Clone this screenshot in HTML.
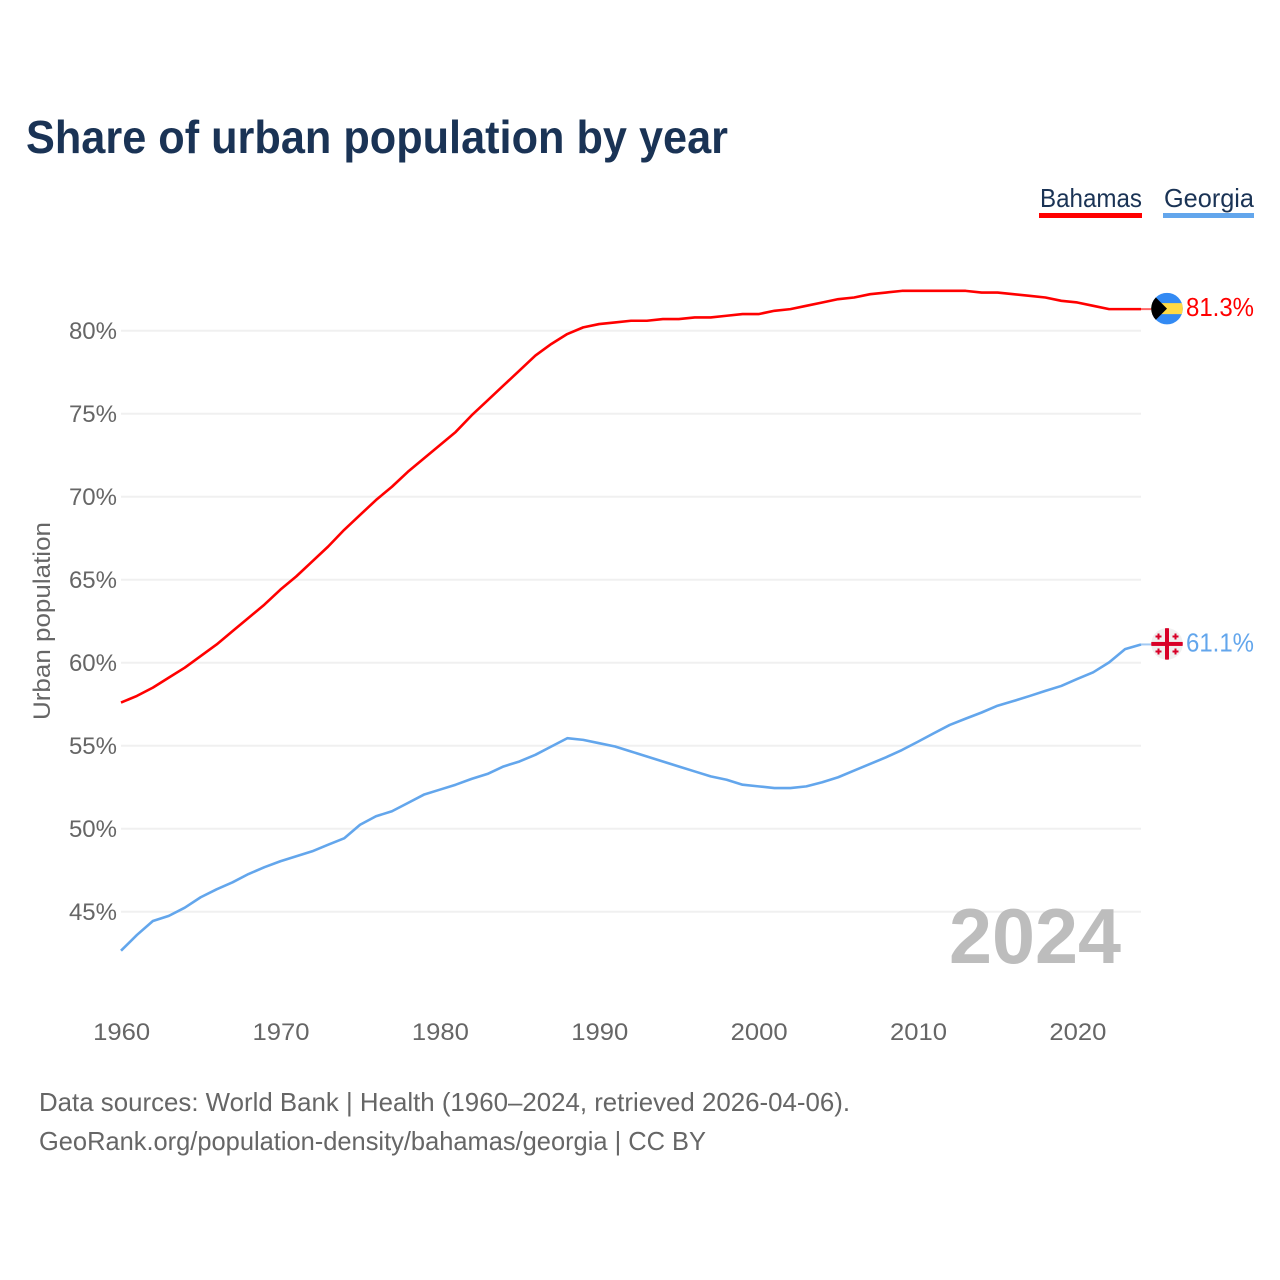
<!DOCTYPE html>
<html lang="en">
<head>
<meta charset="utf-8">
<title>Share of urban population by year</title>
<style>
html,body{margin:0;padding:0;background:#fff;}
svg{display:block;font-family:"Liberation Sans",sans-serif;}
</style>
</head>
<body>
<svg id="chart" width="1280" height="1280" viewBox="0 0 1280 1280" xmlns="http://www.w3.org/2000/svg">
  <defs>
    <clipPath id="flag-clip"><circle cx="0" cy="0" r="15.8"/></clipPath>
  </defs>
  <rect x="0" y="0" width="1280" height="1280" fill="#ffffff"/>
  <text x="26" y="153" font-size="46" font-weight="700" fill="#1a3355" textLength="702" lengthAdjust="spacingAndGlyphs">Share of urban population by year</text>

  <g>
    <g>
      <text x="1040" y="207" font-size="26" fill="#1a3355" textLength="102" lengthAdjust="spacingAndGlyphs">Bahamas</text>
      <rect x="1039" y="213" width="103" height="5" fill="#ff0000"/>
    </g>
    <g>
      <text x="1164" y="207" font-size="26" fill="#1a3355" textLength="90" lengthAdjust="spacingAndGlyphs">Georgia</text>
      <rect x="1163" y="213" width="91" height="5" fill="#63a6ec"/>
    </g>
  </g>

  <text transform="translate(50,621) rotate(-90)" text-anchor="middle" font-size="24" fill="#666666" textLength="198" lengthAdjust="spacingAndGlyphs">Urban population</text>

  <g id="grid"></g>
  <g id="y-ticks"></g>
  <g id="x-ticks"></g>

  <text x="1121" y="963" text-anchor="end" font-size="78" font-weight="700" fill="#bdbdbd" textLength="172" lengthAdjust="spacingAndGlyphs">2024</text>

  <path id="line-bahamas" fill="none" stroke="#ff0000" stroke-width="2.6" stroke-linejoin="round"/>
  <path id="line-georgia" fill="none" stroke="#63a6ec" stroke-width="2.6" stroke-linejoin="round"/>
  <line id="lead-bahamas" stroke="#ff0000" stroke-width="2" opacity="0.6"/>
  <line id="lead-georgia" stroke="#63a6ec" stroke-width="2" opacity="0.6"/>

  <g id="flag-bahamas">
    <g clip-path="url(#flag-clip)">
      <rect x="-16" y="-16" width="32" height="32" fill="#338af3"/>
      <rect x="-16" y="-5.5" width="32" height="11" fill="#ffda44"/>
      <path d="M-16,-16 L0,0 L-16,16 Z" fill="#000000"/>
    </g>
  </g>
  <g id="flag-georgia">
    <g clip-path="url(#flag-clip)">
      <rect x="-16" y="-16" width="32" height="32" fill="#f0f0f0"/>
      <rect x="-16" y="-2" width="32" height="4" fill="#d80027"/>
      <rect x="-2" y="-16" width="4" height="32" fill="#d80027"/>
      <path d="M-9.5,-10.5h2v2h2v2h-2v2h-2v-2h-2v-2h2zM7.5,-10.5h2v2h2v2h-2v2h-2v-2h-2v-2h2zM-9.5,4.5h2v2h2v2h-2v2h-2v-2h-2v-2h2zM7.5,4.5h2v2h2v2h-2v2h-2v-2h-2v-2h2z" fill="#d80027"/>
    </g>
  </g>
  <text id="value-bahamas" x="1186" font-size="26" fill="#ff0000" textLength="68" lengthAdjust="spacingAndGlyphs"></text>
  <text id="value-georgia" x="1186" font-size="26" fill="#63a6ec" textLength="68" lengthAdjust="spacingAndGlyphs"></text>

  <text x="39" y="1111" font-size="26" fill="#666666" textLength="811" lengthAdjust="spacingAndGlyphs">Data sources: World Bank | Health (1960–2024, retrieved 2026-04-06).</text>
  <text x="39" y="1150" font-size="26" fill="#666666" textLength="667" lengthAdjust="spacingAndGlyphs">GeoRank.org/population-density/bahamas/georgia | CC BY</text>
</svg>
<script>
const startYear = 1960;
const xTickYears = [1960, 1970, 1980, 1990, 2000, 2010, 2020];
const yTickValues = [45, 50, 55, 60, 65, 70, 75, 80];
const bahamasValues = [57.6, 58.0, 58.5, 59.1, 59.7, 60.4, 61.1, 61.9, 62.7, 63.5, 64.4, 65.2, 66.1, 67.0, 68.0, 68.9, 69.8, 70.6, 71.5, 72.3, 73.1, 73.9, 74.9, 75.8, 76.7, 77.6, 78.5, 79.2, 79.8, 80.2, 80.4, 80.5, 80.6, 80.6, 80.7, 80.7, 80.8, 80.8, 80.9, 81.0, 81.0, 81.2, 81.3, 81.5, 81.7, 81.9, 82.0, 82.2, 82.3, 82.4, 82.4, 82.4, 82.4, 82.4, 82.3, 82.3, 82.2, 82.1, 82.0, 81.8, 81.7, 81.5, 81.3, 81.3, 81.3];
const georgiaValues = [42.65, 43.6, 44.44, 44.75, 45.24, 45.87, 46.35, 46.77, 47.27, 47.68, 48.04, 48.34, 48.64, 49.04, 49.42, 50.24, 50.75, 51.05, 51.55, 52.05, 52.35, 52.65, 53.0, 53.3, 53.75, 54.05, 54.45, 54.95, 55.45, 55.35, 55.15, 54.95, 54.65, 54.35, 54.05, 53.75, 53.45, 53.15, 52.95, 52.65, 52.55, 52.45, 52.45, 52.55, 52.8, 53.1, 53.5, 53.9, 54.3, 54.74, 55.24, 55.75, 56.25, 56.63, 57.0, 57.41, 57.69, 57.99, 58.3, 58.6, 59.02, 59.42, 60.02, 60.82, 61.1];

const SVG_NS = 'http://www.w3.org/2000/svg';
function xScale(year) { return 121 + (year - 1960) * (1141 - 121) / 64; }
function yScale(value) { return 330.7 + (80 - value) * 16.6; }
function linePath(values) {
  return values.map(function (v, i) {
    return (i ? 'L' : 'M') + xScale(startYear + i).toFixed(2) + ',' + yScale(v).toFixed(2);
  }).join(' ');
}

const grid = document.getElementById('grid');
const yTicks = document.getElementById('y-ticks');
const xTicks = document.getElementById('x-ticks');

yTickValues.forEach(function (v) {
  const line = document.createElementNS(SVG_NS, 'line');
  
  
  line.setAttribute('x1', 121);
  line.setAttribute('x2', 1141);
  line.setAttribute('y1', yScale(v));
  line.setAttribute('y2', yScale(v));
  line.setAttribute('stroke', '#f0f0f0');
  line.setAttribute('stroke-width', 2);
  grid.appendChild(line);

  const label = document.createElementNS(SVG_NS, 'text');
  
  
  label.setAttribute('x', 117);
  label.setAttribute('y', yScale(v) + 8.3);
  label.setAttribute('text-anchor', 'end');
  label.setAttribute('font-size', 24);
  label.setAttribute('fill', '#666666');
  label.textContent = v + '%';
  yTicks.appendChild(label);
});

xTickYears.forEach(function (year) {
  const label = document.createElementNS(SVG_NS, 'text');
  
  
  label.setAttribute('x', xScale(year) + 0.7);
  label.setAttribute('y', 1040);
  label.setAttribute('text-anchor', 'middle');
  label.setAttribute('font-size', 24);
  label.setAttribute('fill', '#666666');
  label.setAttribute('textLength', 57);
  label.setAttribute('lengthAdjust', 'spacingAndGlyphs');
  label.textContent = year;
  xTicks.appendChild(label);
});

function drawSeries(key, values) {
  const last = values[values.length - 1];
  const endX = xScale(startYear + values.length - 1);
  const endY = yScale(last);
  document.getElementById('line-' + key).setAttribute('d', linePath(values));
  const lead = document.getElementById('lead-' + key);
  lead.setAttribute('x1', endX);
  lead.setAttribute('x2', 1153);
  lead.setAttribute('y1', endY);
  lead.setAttribute('y2', endY);
  document.getElementById('flag-' + key).setAttribute('transform', 'translate(1167,' + (endY - 0.5) + ')');
  const value = document.getElementById('value-' + key);
  value.setAttribute('y', endY + 7);
  value.textContent = last.toFixed(1) + '%';
}
drawSeries('bahamas', bahamasValues);
drawSeries('georgia', georgiaValues);
</script>
</body>
</html>
